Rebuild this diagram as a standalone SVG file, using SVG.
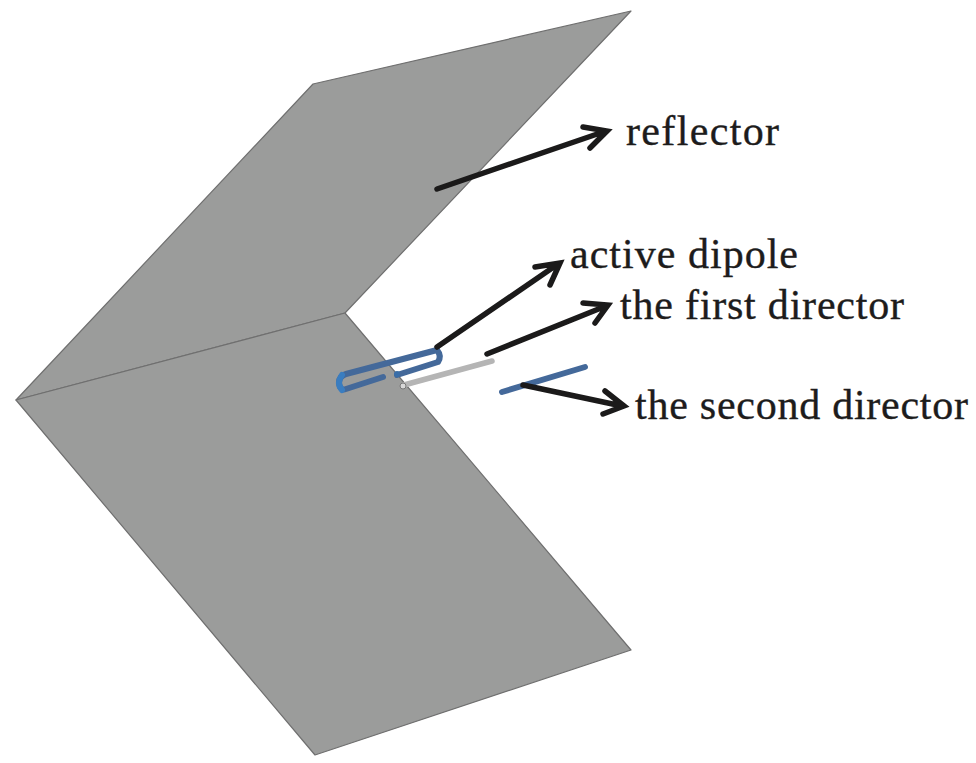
<svg xmlns="http://www.w3.org/2000/svg" width="976" height="763" viewBox="0 0 976 763">
<style>
.plate{fill:#9b9c9b;stroke:#6f6f6f;stroke-width:1.2;stroke-linejoin:round}
.arrow{fill:none;stroke:#1b1a1a;stroke-width:5.5;stroke-linecap:round;stroke-linejoin:miter}
.blue{fill:none;stroke:#44699a;stroke-width:6;stroke-linecap:round;stroke-linejoin:round}
.lbl{font-family:"Liberation Serif","Times New Roman",serif;fill:#1d1c1c;font-size:42px;stroke:#1d1c1c;stroke-width:.35}
</style>
<rect width="976" height="763" fill="#ffffff"/>
<g id="reflector-plates">
<polygon class="plate" points="16,400 313,84 631,11 345,313"/>
<polygon class="plate" points="16,400 345,313 631,650 315,755"/>
</g>
<g id="active-dipole">
<path class="blue" d="M437,350 L346,374 Q339,376 339,383 Q340,391 346,389 L383,377"/>
<path class="blue" d="M437,350 Q442,356 438,362 L397,375"/>
<path d="M342,375 Q336,383 342,390" fill="none" stroke="#3a7dc0" stroke-width="6" stroke-linecap="round"/>
<circle cx="397" cy="374" r="3" fill="#3a6ea8"/>
</g>
<g id="first-director">
<path d="M404,385 L492,361" fill="none" stroke="#b5b5b5" stroke-width="5.5" stroke-linecap="round"/>
<circle cx="403" cy="386" r="3" fill="#d8d8d8" stroke="#777" stroke-width="1"/>
</g>
<g id="second-director">
<path class="blue" d="M502,392 L585,367"/>
</g>
<g id="connectors">
<path class="arrow" d="M437,189 L606,131 M583,127 L607,131 L590,148"/>
<path class="arrow" d="M437,347 L558,264 M535,267 L560,263 L550,285"/>
<path class="arrow" d="M487,354 L606,306 M583,303 L608,305 L595,323"/>
<path class="arrow" d="M523,385 L622,406 M605,391 L624,406 L603,414"/>
</g>
<g id="labels">
<text class="lbl" x="626" y="145" textLength="153" lengthAdjust="spacing">reflector</text>
<text class="lbl" x="570" y="268" textLength="228" lengthAdjust="spacing">active dipole</text>
<text class="lbl" x="620" y="319" textLength="284" lengthAdjust="spacing">the first director</text>
<text class="lbl" x="635" y="419" textLength="333" lengthAdjust="spacing">the second director</text>
</g>
</svg>
